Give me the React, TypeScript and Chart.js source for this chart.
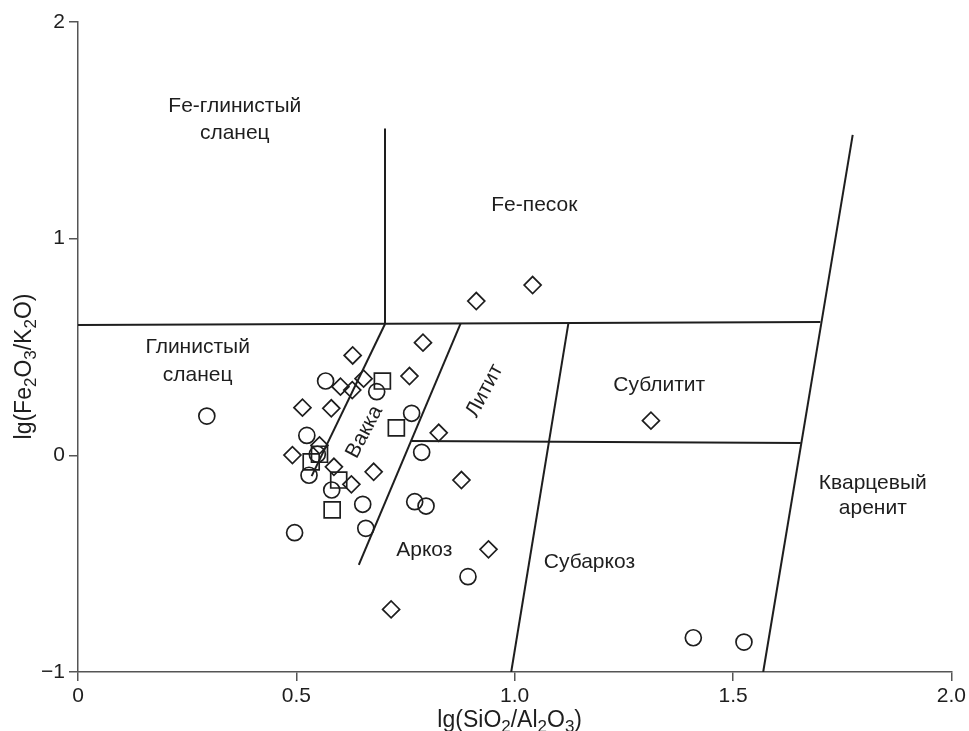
import React, { useEffect, useRef } from "react";
import { Chart, registerables } from "chart.js";

Chart.register(...registerables);

// ---- data ----
const xTickValues = [0, 0.5, 1.0, 1.5, 2.0];
const xTickLabels = ["0", "0.5", "1.0", "1.5", "2.0"];
const yTickValues = [-1, 0, 1, 2];
const yTickLabels = ["\u22121", "0", "1", "2"];

// series: circles
const circlesX = [0.295, 0.567, 0.684, 0.764, 0.524, 0.787, 0.529, 0.581, 0.652, 0.771, 0.797, 0.659, 0.496, 0.893, 1.409, 1.525, 0.548];
const circlesY = [0.181, 0.343, 0.294, 0.194, 0.092, 0.014, -0.092, -0.160, -0.226, -0.214, -0.234, -0.337, -0.357, -0.560, -0.842, -0.862, 0.005];

// series: diamonds
const diamondsX = [0.912, 1.041, 0.790, 0.629, 0.759, 0.654, 0.601, 0.628, 0.514, 0.580, 0.826, 1.312, 0.553, 0.491, 0.586, 0.677, 0.626, 0.878, 0.940, 0.717];
const diamondsY = [0.712, 0.786, 0.520, 0.461, 0.366, 0.354, 0.317, 0.301, 0.220, 0.217, 0.104, 0.160, 0.046, 0.001, -0.053, -0.076, -0.134, -0.114, -0.434, -0.711];

// series: squares
const squaresX = [0.697, 0.729, 0.553, 0.534, 0.597, 0.582];
const squaresY = [0.343, 0.127, 0.005, -0.030, -0.114, -0.252];

// classification boundary lines: [x1, y1, x2, y2]
const boundaryLines = [
  [0.0, 0.601, 1.700, 0.615],
  [0.703, 1.509, 0.703, 0.606],
  [0.703, 0.606, 0.535, -0.096],
  [0.876, 0.608, 0.643, -0.506],
  [1.123, 0.610, 0.992, -1.0],
  [0.764, 0.066, 1.655, 0.057],
  [1.774, 1.479, 1.569, -1.0],
];

// field labels
const fieldNames = ["Fe-глинистый", "сланец", "Fe-песок", "Глинистый", "сланец", "Вакка", "Литит", "Сублитит", "Аркоз", "Субаркоз", "Кварцевый", "аренит"];
const fieldX = [0.359, 0.359, 1.045, 0.274, 0.274, 0.656, 0.931, 1.331, 0.793, 1.171, 1.820, 1.820];
const fieldY = [1.612, 1.487, 1.155, 0.500, 0.371, 0.108, 0.298, 0.325, -0.437, -0.492, -0.128, -0.243];
const fieldAngle = [0, 0, 0, 0, 0, -62, -62, 0, 0, 0, 0, 0];

const xTitleParts: [string, boolean][] = [["lg(SiO", false], ["2", true], ["/Al", false], ["2", true], ["O", false], ["3", true], [")", false]];
const yTitleParts: [string, boolean][] = [["lg(Fe", false], ["2", true], ["O", false], ["3", true], ["/K", false], ["2", true], ["O)", false]];

const FONT = "'Liberation Sans', Arial, Helvetica, sans-serif";
const INK = "#1e1e1e";

function drawSubText(ctx: CanvasRenderingContext2D, parts: [string, boolean][], size: number) {
  const subSize = Math.round(size * 0.72);
  let total = 0;
  for (const [t, s] of parts) {
    ctx.font = `${s ? subSize : size}px ${FONT}`;
    total += ctx.measureText(t).width;
  }
  let x = -total / 2;
  ctx.textAlign = "left";
  ctx.textBaseline = "alphabetic";
  for (const [t, s] of parts) {
    ctx.font = `${s ? subSize : size}px ${FONT}`;
    ctx.fillText(t, x, s ? size * 0.22 : 0);
    x += ctx.measureText(t).width;
  }
}

const textPlugin = {
  id: "fieldText",
  afterDatasetsDraw(chart: any) {
    const ctx: CanvasRenderingContext2D = chart.ctx;
    const xs = chart.scales.x;
    const ys = chart.scales.y;
    ctx.save();
    ctx.fillStyle = INK;
    ctx.font = `21px ${FONT}`;
    ctx.textAlign = "center";
    ctx.textBaseline = "middle";
    fieldNames.forEach((name, i) => {
      const px = xs.getPixelForValue(fieldX[i]);
      const py = ys.getPixelForValue(fieldY[i]);
      ctx.save();
      ctx.translate(px, py);
      ctx.rotate((fieldAngle[i] * Math.PI) / 180);
      ctx.fillText(name, 0, 0);
      ctx.restore();
    });
    // axis titles
    const cx = (xs.left + xs.right) / 2;
    ctx.save();
    ctx.translate(cx - 5, chart.height - 4);
    drawSubText(ctx, xTitleParts, 23);
    ctx.restore();
    ctx.save();
    ctx.translate(31, ys.getPixelForValue(0.41));
    ctx.rotate(-Math.PI / 2);
    drawSubText(ctx, yTitleParts, 23);
    ctx.restore();
    ctx.restore();
  },
};

export default function App() {
  const ref = useRef<HTMLCanvasElement | null>(null);
  useEffect(() => {
    if (!ref.current) return;
    const pts = (xs: number[], ys: number[]) => xs.map((x, i) => ({ x, y: ys[i] }));
    const markerBase = {
      type: "scatter" as const,
      backgroundColor: "rgba(0,0,0,0)",
      borderColor: INK,
      borderWidth: 1.7,
      showLine: false,
    };
    const lineSets = boundaryLines.map((l) => ({
      type: "line" as const,
      data: [{ x: l[0], y: l[1] }, { x: l[2], y: l[3] }],
      borderColor: INK,
      borderWidth: 2,
      pointRadius: 0,
      fill: false,
      tension: 0,
    }));
    const chart = new Chart(ref.current, {
      type: "scatter",
      data: {
        datasets: [
          { ...markerBase, data: pts(circlesX, circlesY), pointStyle: "circle", pointRadius: 8 },
          { ...markerBase, data: pts(diamondsX, diamondsY), pointStyle: "rectRot", pointRadius: 8.5 },
          { ...markerBase, data: pts(squaresX, squaresY), pointStyle: "rect", pointRadius: 11.3 },
          ...lineSets,
        ] as any,
      },
      options: {
        animation: false,
        responsive: true,
        maintainAspectRatio: false,
        layout: { padding: { top: 22, right: 16.3, left: 0, bottom: 0 } },
        plugins: { legend: { display: false }, tooltip: { enabled: false } },
        scales: {
          x: {
            type: "linear",
            min: 0,
            max: 2,
            afterFit: (s: any) => { s.height = 59; },
            afterBuildTicks: (s: any) => { s.ticks = xTickValues.map((v) => ({ value: v })); },
            ticks: {
              autoSkip: false,
              maxRotation: 0,
              padding: 3,
              color: INK,
              font: { family: FONT, size: 21 },
              callback: (v: any) => { const i = xTickValues.indexOf(Number(v)); return i >= 0 ? xTickLabels[i] : ""; },
            },
            grid: { display: true, drawOnChartArea: false, drawTicks: true, tickLength: 9, color: "#555", lineWidth: 1.5 },
            border: { display: true, color: "#555", width: 1.5 },
          },
          y: {
            type: "linear",
            min: -1,
            max: 2,
            afterFit: (s: any) => { s.width = 78; },
            afterBuildTicks: (s: any) => { s.ticks = yTickValues.map((v) => ({ value: v })); },
            ticks: {
              autoSkip: false,
              padding: 4,
              color: INK,
              font: { family: FONT, size: 21 },
              callback: (v: any) => { const i = yTickValues.indexOf(Number(v)); return i >= 0 ? yTickLabels[i] : ""; },
            },
            grid: { display: true, drawOnChartArea: false, drawTicks: true, tickLength: 9, color: "#555", lineWidth: 1.5 },
            border: { display: true, color: "#555", width: 1.5 },
          },
        },
      },
      plugins: [textPlugin],
    });
    return () => chart.destroy();
  }, []);
  return (
    <div style={{ position: "absolute", left: 0, top: 0, width: 969, height: 731, background: "#fff" }}>
      <canvas ref={ref} />
    </div>
  );
}
